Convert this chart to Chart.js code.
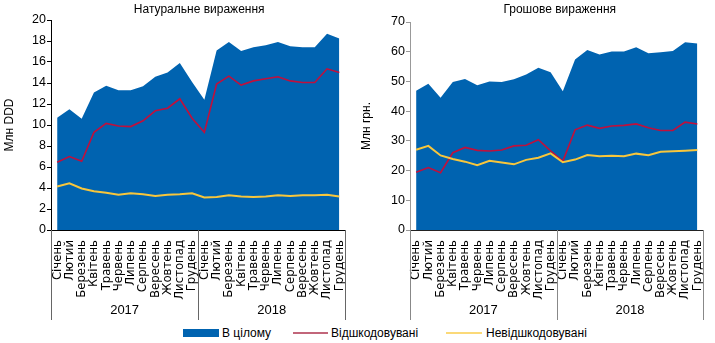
<!DOCTYPE html>
<html>
<head>
<meta charset="utf-8">
<script src="https://cdn.jsdelivr.net/npm/chart.js@4.4.1/dist/chart.umd.min.js"></script>
<style>
  html, body { margin: 0; padding: 0; background: #fff; }
  #wrap { position: relative; width: 715px; height: 343px; overflow: hidden; font-family: "Liberation Sans", Arial, sans-serif; }
  canvas { position: absolute; top: 0; }
  #c1 { left: 0; }
  #c2 { left: 357px; }
  .lg { position: absolute; font-size: 12px; color: #000; line-height: 14px; top: 326px; white-space: nowrap; }
  .mk { position: absolute; }
</style>
</head>
<body>
<div id="wrap">
  <canvas id="c1" width="357" height="325"></canvas>
  <canvas id="c2" width="358" height="325"></canvas>
  <div class="mk" style="left:183px; top:329px; width:36px; height:8px; background:#0063B0;"></div>
  <div class="lg" style="left:222px;">В цілому</div>
  <div class="mk" style="left:293px; top:332px; width:35px; height:2px; background:#C2667A;"></div>
  <div class="lg" style="left:331px;">Відшкодовувані</div>
  <div class="mk" style="left:446px; top:332px; width:36px; height:2px; background:#FBD978;"></div>
  <div class="lg" style="left:486px;">Невідшкодовувані</div>
</div>
<script>
// ---- data ----
const years = ['2017', '2018'];
const months = ['Січень', 'Лютий', 'Березень', 'Квітень', 'Травень', 'Червень', 'Липень', 'Серпень', 'Вересень', 'Жовтень', 'Листопад', 'Грудень'];
const seriesNames = ['В цілому', 'Відшкодовувані', 'Невідшкодовувані'];

// Натуральне вираження, млн DDD
const natTotal = [10.7, 11.5, 10.6, 13.1, 13.75, 13.3, 13.3, 13.7, 14.6, 15.0, 15.9, 14.1, 12.4, 17.1, 17.9, 17.05, 17.4, 17.6, 17.9, 17.5, 17.4, 17.4, 18.7, 18.25];
const natReimb = [6.45, 7.0, 6.55, 9.3, 10.15, 9.9, 9.85, 10.4, 11.35, 11.6, 12.5, 10.65, 9.3, 13.9, 14.65, 13.8, 14.2, 14.4, 14.6, 14.2, 14.05, 14.05, 15.35, 15.0];
const natNonReimb = [4.15, 4.45, 3.95, 3.7, 3.55, 3.35, 3.5, 3.4, 3.25, 3.35, 3.4, 3.5, 3.1, 3.15, 3.3, 3.2, 3.15, 3.2, 3.3, 3.25, 3.3, 3.3, 3.35, 3.2];

// Грошове вираження, млн грн.
const monTotal = [46.9, 49.2, 44.5, 49.8, 50.8, 48.7, 50.0, 49.8, 50.7, 52.3, 54.6, 53.1, 46.7, 57.4, 60.6, 59.1, 60.1, 60.1, 61.5, 59.5, 59.8, 60.2, 63.2, 62.8];
const monReimb = [19.4, 21.0, 19.3, 26.0, 27.8, 26.8, 26.6, 26.9, 28.3, 28.5, 30.4, 26.6, 23.2, 33.7, 35.3, 34.2, 35.0, 35.2, 35.7, 34.4, 33.5, 33.5, 36.3, 35.7];
const monNonReimb = [27.0, 28.3, 25.1, 23.9, 23.0, 21.8, 23.3, 22.7, 22.1, 23.6, 24.3, 25.8, 22.8, 23.7, 25.2, 24.8, 25.0, 24.8, 25.7, 25.2, 26.3, 26.5, 26.7, 26.9];

const natTicks = { min: 0, max: 20, step: 2 };
const monTicks = { min: 0, max: 70, step: 10 };

// ---- styling ----
const BLUE = '#0063B0';
const RED = '#C0103C';
const YELLOW = '#F7C63C';
const FONT = '"Liberation Sans", Arial, sans-serif';
const NARROW = '"Liberation Sans Narrow", "Arial Narrow", "DejaVu Sans Condensed", sans-serif';

const labels = years.flatMap(() => months);

const decorPlugin = {
  id: 'decor',
  afterDraw(chart, args, opts) {
    const { ctx, chartArea } = chart;
    const x = chart.scales.x;
    const n = labels.length;
    const per = months.length;
    const step = x.getPixelForValue(1) - x.getPixelForValue(0);
    const bounds = [];
    for (let i = 0; i <= years.length; i++) {
      if (i === 0) bounds.push(x.getPixelForValue(0) - step / 2);
      else if (i === years.length) bounds.push(x.getPixelForValue(n - 1) + step / 2);
      else bounds.push((x.getPixelForValue(i * per - 1) + x.getPixelForValue(i * per)) / 2);
    }
    ctx.save();
    ctx.strokeStyle = opts.sepColor;
    ctx.lineWidth = 1;
    bounds.forEach((b, i) => {
      const xx = Math.round(b) + 0.5;
      ctx.beginPath();
      ctx.moveTo(xx, chartArea.bottom);
      ctx.lineTo(xx, opts.sepBottom);
      ctx.stroke();
    });
    ctx.fillStyle = '#000';
    ctx.font = '13px ' + FONT;
    ctx.textAlign = 'center';
    ctx.textBaseline = 'middle';
    years.forEach((y, i) => {
      ctx.fillText(y, (bounds[i] + bounds[i + 1]) / 2, opts.yearY);
    });
    ctx.font = '12px ' + FONT;
    ctx.fillText(opts.title, (chartArea.left + chartArea.right) / 2 + opts.titleDx, opts.titleY);
    ctx.restore();
  }
};

function makeChart(id, total, reimb, nonReimb, ticks, yTitle, title, cfg) {
  return new Chart(document.getElementById(id), {
    type: 'line',
    data: {
      labels: labels,
      datasets: [
        { label: seriesNames[0], data: total, fill: 'origin', backgroundColor: BLUE, borderColor: BLUE, borderWidth: 0, pointRadius: 0, tension: 0, order: 3 },
        { label: seriesNames[1], data: reimb, fill: false, borderColor: RED, borderWidth: 1.6, pointRadius: 0, tension: 0, order: 2 },
        { label: seriesNames[2], data: nonReimb, fill: false, borderColor: YELLOW, borderWidth: 2, pointRadius: 0, tension: 0, order: 1 }
      ]
    },
    options: {
      responsive: false,
      animation: false,
      devicePixelRatio: 1,
      layout: { padding: { left: 0, right: cfg.padRight, top: cfg.padTop, bottom: 0 } },
      plugins: {
        legend: { display: false },
        tooltip: { enabled: false },
        decor: { sepColor: cfg.sepColor, sepBottom: 320, yearY: 310, title: title, titleY: 10, titleDx: cfg.titleDx }
      },
      scales: {
        x: {
          type: 'category',
          offset: true,
          grid: { display: false },
          border: { display: true, color: cfg.xAxisColor, width: 1 },
          ticks: { autoSkip: false, minRotation: 90, maxRotation: 90, padding: 2, color: '#000', font: { family: NARROW, size: 13 } },
          afterFit(scale) { scale.height = 95; }
        },
        y: {
          min: ticks.min, max: ticks.max,
          grid: { display: true, drawOnChartArea: false, drawTicks: true, tickLength: 4, color: cfg.yAxisColor },
          border: { display: true, color: cfg.yAxisColor, width: 1 },
          ticks: { stepSize: ticks.step, padding: 1, color: '#000', font: { family: FONT, size: 12.5 } },
          title: { display: true, text: yTitle, color: '#000', font: { family: FONT, size: 12 }, padding: { top: 2, bottom: 0 } },
          afterFit(scale) { scale.width = cfg.yWidth; }
        }
      }
    },
    plugins: [decorPlugin]
  });
}

makeChart('c1', natTotal, natReimb, natNonReimb, natTicks, 'Млн DDD', 'Натуральне вираження',
  { padRight: 5, padTop: 20, yWidth: 51, xAxisColor: '#000', yAxisColor: '#000', sepColor: '#666', titleDx: 1 });
makeChart('c2', monTotal, monReimb, monNonReimb, monTicks, 'Млн грн.', 'Грошове вираження',
  { padRight: 4, padTop: 22, yWidth: 53, xAxisColor: '#222', yAxisColor: '#999', sepColor: '#888', titleDx: 3 });
</script>
</body>
</html>
